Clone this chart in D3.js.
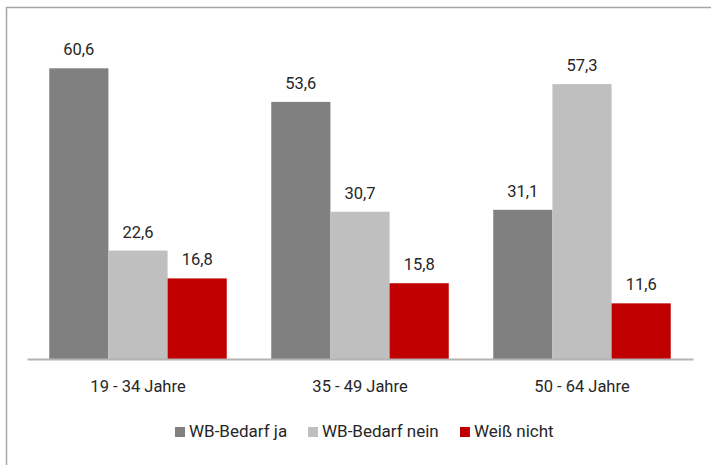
<!DOCTYPE html>
<html>
<head>
<meta charset="utf-8">
<script src="https://cdn.jsdelivr.net/npm/d3@7"></script>
<style>
  body { margin: 0; background: #fff; }
  svg text { font-family: Roboto, "Liberation Sans Narrow", "DejaVu Sans Condensed", sans-serif; fill: #262626; }
</style>
</head>
<body>
<svg id="chart"></svg>
<script>
// data
const groups = ["19 - 34 Jahre", "35 - 49 Jahre", "50 - 64 Jahre"];
const seriesNames = ["WB-Bedarf ja", "WB-Bedarf nein", "Weiß nicht"];
const seriesColors = ["#808080", "#bfbfbf", "#c00000"];
const bedarfJa = [60.6, 53.6, 31.1];
const bedarfNein = [22.6, 30.7, 57.3];
const weissNicht = [16.8, 15.8, 11.6];

const seriesValues = [bedarfJa, bedarfNein, weissNicht];
const rows = groups.map((g, i) => ({
  group: g,
  values: seriesNames.map((s, j) => ({ key: s, color: seriesColors[j], value: seriesValues[j][i] }))
}));

const width = 711, height = 465;
const svg = d3.select("#chart").attr("width", width).attr("height", height);

// outer frame (cropped on right / bottom in the original)
svg.append("rect")
  .attr("x", 6.5).attr("y", 7.5)
  .attr("width", 760).attr("height", 500)
  .attr("fill", "none")
  .attr("stroke", "#a6a6a6")
  .attr("stroke-width", 1.5);

const baseY = 359;
const x0 = d3.scaleBand().domain(groups).range([27, 693]).padding(0);
const x1 = d3.scaleBand().domain(seriesNames).range([22.25, x0.bandwidth() - 22.25]).padding(0);
const y = d3.scaleLinear().domain([0, 70]).range([baseY, baseY - 70 * 4.797]);

const g = svg.append("g").selectAll("g")
  .data(rows)
  .join("g")
  .attr("transform", d => `translate(${x0(d.group)},0)`);

g.selectAll("rect")
  .data(d => d.values)
  .join("rect")
  .attr("x", d => x1(d.key))
  .attr("y", d => y(d.value))
  .attr("width", x1.bandwidth())
  .attr("height", d => baseY - y(d.value))
  .attr("fill", d => d.color);

g.selectAll("text.val")
  .data(d => d.values)
  .join("text")
  .attr("class", "val")
  .attr("x", d => x1(d.key) + x1.bandwidth() / 2)
  .attr("y", d => y(d.value) - 13)
  .attr("text-anchor", "middle")
  .attr("font-size", 16.5)
  .text(d => d3.format(".1f")(d.value).replace(".", ","));

// category axis
const xAxis = svg.append("g")
  .attr("transform", `translate(0,${baseY})`)
  .call(d3.axisBottom(x0).tickSize(0).tickPadding(21));
xAxis.select(".domain").attr("stroke", "#b3b3b3").attr("stroke-width", 2);
xAxis.selectAll("text")
  .attr("font-size", 16.5)
  .attr("font-family", null)
  .attr("fill", "#262626");

// legend
const legendX = [175, 308, 460];
const legend = svg.append("g").selectAll("g")
  .data(seriesNames)
  .join("g")
  .attr("transform", (d, i) => `translate(${legendX[i]},427)`);
legend.append("rect")
  .attr("width", 10).attr("height", 10)
  .attr("fill", (d, i) => seriesColors[i]);
legend.append("text")
  .attr("x", 14).attr("y", 10)
  .attr("font-size", 17)
  .text(d => d);
</script>
</body>
</html>
